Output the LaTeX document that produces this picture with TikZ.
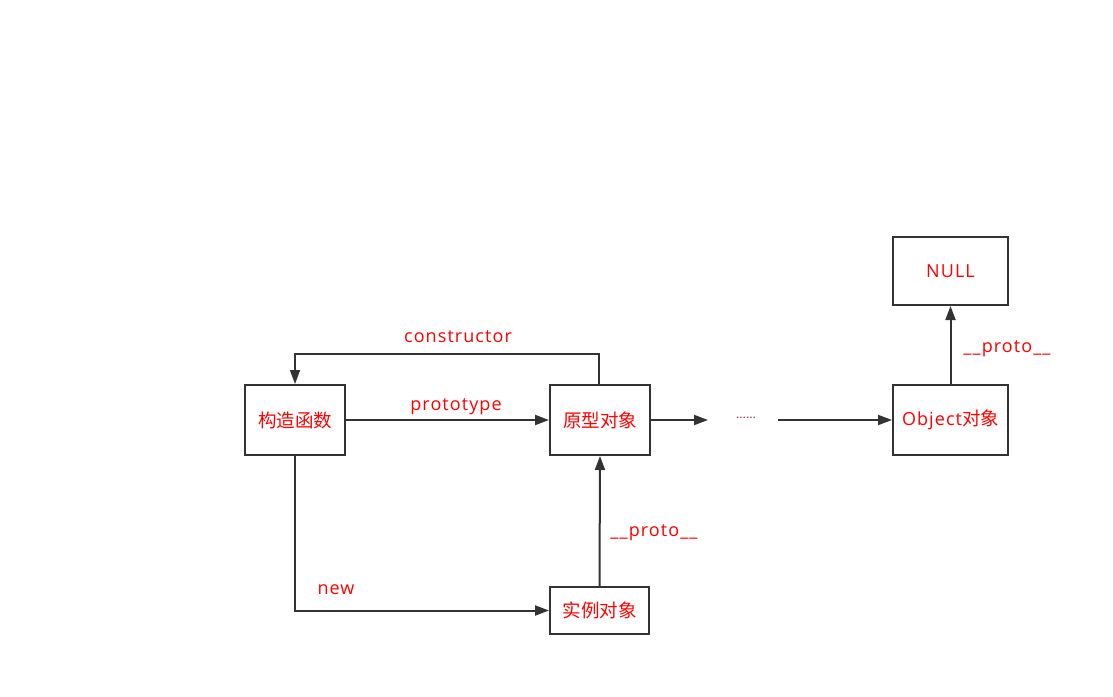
\documentclass[tikz,border=0pt]{standalone}
\usepackage{fontspec}
\setmainfont{Noto Sans CJK SC}
\newfontfamily\latinf[LetterSpace=6]{Open Sans}
\usetikzlibrary{arrows.meta}
\definecolor{linec}{HTML}{333333}
\definecolor{txtc}{HTML}{FF0000}
\definecolor{dotc}{HTML}{B03030}
\tikzset{
  box/.style={draw=linec, line width=2pt, minimum width=#1, inner sep=0pt, text=txtc, font=\fontsize{18.5}{22}\selectfont},
  conn/.style={draw=linec, line width=2pt, -{Triangle[length=14pt,width=10pt]}},
  lbl/.style={text=txtc, font=\latinf\fontsize{18}{21}\selectfont, inner sep=0pt, anchor=base},
}
\begin{document}
\begin{tikzpicture}[x=1pt,y=-1pt]
\useasboundingbox (0,0) rectangle (1113,696);
\node[box=100pt, minimum height=70pt] (ctor) at (295,420) {构造函数};
\node[box=100pt, minimum height=70pt] (proto) at (600,420) {原型对象};
\node[box=115pt, minimum height=70pt] (obj) at (950.5,420) {{\latinf\fontsize{18}{21}\selectfont Object}对象};
\node[box=115pt, minimum height=68pt] (null) at (950.5,271) {\latinf\fontsize{18}{21}\selectfont NULL};
\node[box=99pt, minimum height=47pt] (inst) at (599.5,610.5) {实例对象};
\node[text=dotc, font=\fontsize{12}{14}\selectfont, inner sep=0pt] (dots) at (746,418) {......};
\coordinate (d1) at (708,420);
\coordinate (d2) at (778,420);
% prototype
\draw[conn] (ctor.east) -- (proto.west);
\node[lbl] at (456,410.5) {prototype};
% constructor
\draw[conn, line width=1.5pt] (599,385) |- (295,354) -- (ctor.north);
\node[lbl] at (458,342.5) {constructor};
% chain
\draw[conn] (proto.east) -- (d1);
\draw[conn] (d2) -- (obj.west);
% object to null
\draw[conn] (obj.north) -- (null.south);
\node[lbl] at (1007,352) {\_\_proto\_\_};
% new
\draw[conn] (ctor.south) |- (inst.west);
\node[lbl] at (336,594) {new};
% instance proto
\draw[conn] (inst.north) -- (proto.south);
\node[lbl] at (654,536) {\_\_proto\_\_};
\end{tikzpicture}
\end{document}
